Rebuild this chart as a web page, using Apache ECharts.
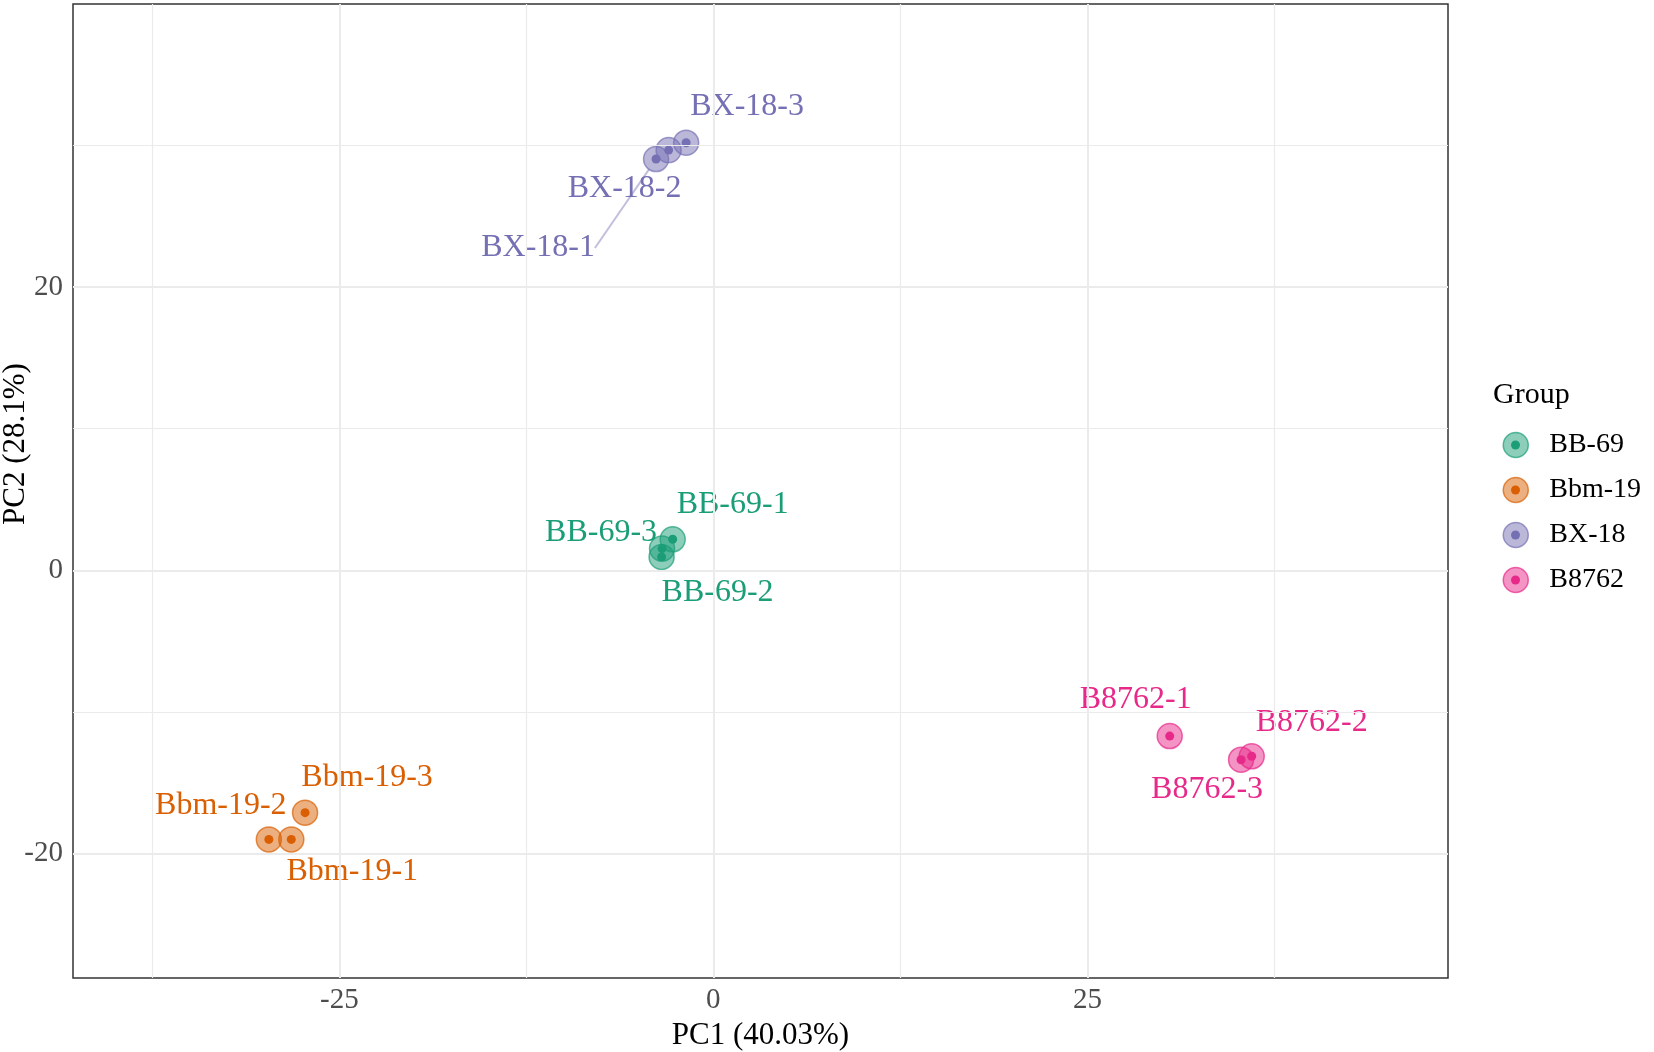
<!DOCTYPE html>
<html>
<head>
<meta charset="utf-8">
<script src="https://cdn.jsdelivr.net/npm/echarts@6/dist/echarts.min.js"></script>
<style>html,body{margin:0;padding:0;background:#fff}#chart{width:1654px;height:1052px}</style>
</head>
<body>
<div id="chart"></div>
<script>
// ---- data ----
const groups = ['BB-69', 'Bbm-19', 'BX-18', 'B8762'];
const bb69Names = ['BB-69-1', 'BB-69-2', 'BB-69-3'];
const bb69PC1 = [-2.72, -3.46, -3.43];
const bb69PC2 = [2.19, 0.94, 1.53];
const bbm19Names = ['Bbm-19-1', 'Bbm-19-2', 'Bbm-19-3'];
const bbm19PC1 = [-28.21, -29.71, -27.29];
const bbm19PC2 = [-19.01, -19.01, -17.12];
const bx18Names = ['BX-18-1', 'BX-18-2', 'BX-18-3'];
const bx18PC1 = [-3.83, -2.99, -1.82];
const bx18PC2 = [29.05, 29.68, 30.2];
const b8762Names = ['B8762-1', 'B8762-2', 'B8762-3'];
const b8762PC1 = [30.50, 35.98, 35.27];
const b8762PC2 = [-11.71, -13.14, -13.38];
const xTickLabels = [-25, 0, 25];
const yTickLabels = [-20, 0, 20];
const xMinorGrid = [-37.5, -12.5, 12.5, 37.5];
const yMinorGrid = [-10, 10, 30];
const xTitle = 'PC1 (40.03%)';
const yTitle = 'PC2 (28.1%)';
const legendTitle = 'Group';

// ---- styles / layout ----
const colors = ['#1B9E77', '#D95F02', '#7570B3', '#E7298A'];
const fillAlpha = 0.5;
const labelOffsets = {
  'BX-18-1': [-118, 89], 'BX-18-2': [-44, 38], 'BX-18-3': [61, -36],
  'BB-69-1': [60, -35], 'BB-69-2': [56, 36], 'BB-69-3': [-61, -16],
  'Bbm-19-1': [61, 32], 'Bbm-19-2': [-48, -34], 'Bbm-19-3': [62, -35],
  'B8762-1': [-34, -36], 'B8762-2': [60, -34], 'B8762-3': [-34, 30]
};
const segmentLabels = ['BX-18-1'];
const FONT = "'Liberation Serif', 'Times New Roman', serif";

function rgba(hex, a) {
  const n = parseInt(hex.slice(1), 16);
  return 'rgba(' + (n >> 16 & 255) + ',' + (n >> 8 & 255) + ',' + (n & 255) + ',' + a + ')';
}

const groupData = [
  [bb69Names, bb69PC1, bb69PC2],
  [bbm19Names, bbm19PC1, bbm19PC2],
  [bx18Names, bx18PC1, bx18PC2],
  [b8762Names, b8762PC1, b8762PC2]
];

const gridColor = '#EBEBEB';
const series = [];
// grid lines helper
series.push({
  type: 'scatter', name: '__grid', data: [], silent: true, z: 0,
  markLine: {
    silent: true, symbol: 'none', label: { show: false }, animation: false,
    data: []
      .concat(xMinorGrid.map(v => ({ xAxis: v, lineStyle: { color: gridColor, width: 1.2, type: 'solid' } })))
      .concat(yMinorGrid.map(v => ({ yAxis: v, lineStyle: { color: gridColor, width: 1.2, type: 'solid' } })))
      .concat(xTickLabels.map(v => ({ xAxis: v, lineStyle: { color: gridColor, width: 2, type: 'solid' } })))
      .concat(yTickLabels.map(v => ({ yAxis: v, lineStyle: { color: gridColor, width: 2, type: 'solid' } })))
  }
});

groups.forEach((g, i) => {
  const [names, xs, ys] = groupData[i];
  const c = colors[i];
  series.push({
    type: 'scatter', name: g, z: 2,
    symbol: 'circle', symbolSize: 25,
    itemStyle: { color: rgba(c, fillAlpha), borderColor: rgba(c, 0.7), borderWidth: 1.5, opacity: 1 },
    emphasis: { disabled: true },
    label: {
      show: true, position: 'inside', formatter: '{b}',
      color: c, fontFamily: FONT, fontSize: 32, align: 'center', verticalAlign: 'middle'
    },
    labelLine: { show: false, lineStyle: { color: rgba(c, 0.45), width: 2 } },
    labelLayout: function (p) {
      const o = labelOffsets[p.text] || [0, 0];
      return { dx: o[0], dy: o[1] };
    },
    data: names.map((n, k) => ({
      name: n, value: [xs[k], ys[k]],
      labelLine: { show: segmentLabels.indexOf(n) >= 0, lineStyle: { color: rgba(c, 0.45), width: 2 } }
    }))
  });
  series.push({
    type: 'scatter', name: g, z: 3,
    symbol: 'circle', symbolSize: 9,
    itemStyle: { color: c, opacity: 1 },
    emphasis: { disabled: true },
    data: names.map((n, k) => ({ name: n, value: [xs[k], ys[k]] }))
  });
});

const legendTextBase = { fontFamily: FONT, fontSize: 28, color: '#000', lineHeight: 25, padding: [0, 0, 0, 16] };

const option = {
  animation: false,
  backgroundColor: '#ffffff',
  grid: {
    left: 73, right: 206, top: 4, bottom: 74, show: true, borderColor: '#333333', borderWidth: 1.5,
    backgroundColor: 'transparent', containLabel: false, outerBoundsMode: 'none'
  },
  xAxis: {
    type: 'value', min: -42.8, max: 49.1,
    name: xTitle, nameLocation: 'middle', nameGap: 38,
    nameTextStyle: { fontFamily: FONT, fontSize: 31, color: '#000' },
    axisLine: { show: false },
    axisTick: { show: true, length: 7, customValues: xTickLabels, lineStyle: { color: '#333', width: 1.5 } },
    axisLabel: { customValues: xTickLabels, margin: 8, fontFamily: FONT, fontSize: 29, color: '#4D4D4D' },
    splitLine: { show: false }
  },
  yAxis: {
    type: 'value', min: -28.8, max: 40.0,
    name: yTitle, nameLocation: 'middle', nameGap: 42, nameMoveOverlap: false,
    nameTextStyle: { fontFamily: FONT, fontSize: 31, color: '#000', padding: [0, 0, 0, 94] },
    axisLine: { show: false },
    axisTick: { show: true, length: 7, customValues: yTickLabels, lineStyle: { color: '#333', width: 1.5 } },
    axisLabel: { customValues: yTickLabels, margin: 10, fontFamily: FONT, fontSize: 29, color: '#4D4D4D' },
    splitLine: { show: false }
  },
  legend: [
    {
      orient: 'vertical', left: 1497.5, top: 426, itemWidth: 25, itemHeight: 25, itemGap: 17,
      icon: 'circle', selectedMode: false,
      textStyle: legendTextBase,
      data: groups.map((g, i) => ({
        name: g, icon: 'circle',
        itemStyle: { color: rgba(colors[i], fillAlpha), borderColor: rgba(colors[i], 0.7), borderWidth: 1.5 }
      }))
    },
    {
      orient: 'vertical', left: 1506, top: 426, itemWidth: 9, itemHeight: 9, itemGap: 17,
      icon: 'circle', selectedMode: false,
      textStyle: Object.assign({}, legendTextBase, { color: 'rgba(0,0,0,0)' }),
      data: groups.map((g, i) => ({
        name: g, icon: 'circle',
        itemStyle: { color: colors[i], borderWidth: 0 }
      }))
    }
  ],
  graphic: [
    { type: 'text', left: 1493, top: 380, style: { text: legendTitle, fontFamily: FONT, fontSize: 30, fill: '#000' } }
  ],
  series: series
};

const chart = echarts.init(document.getElementById('chart'));
chart.setOption(option);
</script>
</body>
</html>
